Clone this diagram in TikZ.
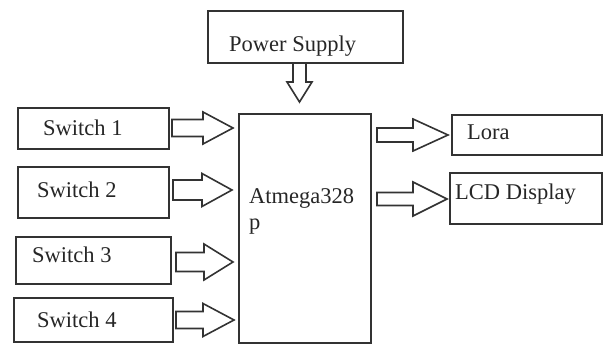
\documentclass[tikz,border=0pt]{standalone}
\usepackage{fontspec}
\setmainfont{Liberation Serif}
\begin{document}
\begin{tikzpicture}[x=1pt,y=-1pt,
  box/.style={draw=black!80, line width=2pt, anchor=north west, inner sep=0pt},
  lbl/.style={anchor=base west, inner sep=0pt, text=black!85, font=\fontsize{22.5}{26}\selectfont},
  blk/.style={draw=black!80, line width=1.6pt, fill=white, line join=miter}]
\useasboundingbox (0,0) rectangle (606,344);
% boxes
\node[box, minimum width=195pt, minimum height=52pt] (power) at (207,10) {};
\node[box, minimum width=132pt, minimum height=229pt] (mcu) at (238,113) {};
\node[box, minimum width=151pt, minimum height=41pt] (s1) at (17,107) {};
\node[box, minimum width=151pt, minimum height=51pt] (s2) at (17,166) {};
\node[box, minimum width=155pt, minimum height=47pt] (s3) at (15,236) {};
\node[box, minimum width=159pt, minimum height=44pt] (s4) at (13,297) {};
\node[box, minimum width=150pt, minimum height=40pt] (lora) at (451,114) {};
\node[box, minimum width=152pt, minimum height=51pt] (lcd) at (449,172) {};
% labels
\node[lbl] (tpower) at (229,52) {Power Supply};
\node[lbl] (tmcu) at (249,204) {Atmega328};
\node[lbl] (tp) at (249,230) {p};
\node[lbl] (ts1) at (43,135.5) {Switch 1};
\node[lbl] (ts2) at (37,197.5) {Switch 2};
\node[lbl] (ts3) at (32,262.5) {Switch 3};
\node[lbl] (ts4) at (37,327.5) {Switch 4};
\node[lbl] (tlora) at (467,139.5) {Lora};
\node[lbl] (tlcd) at (455,199.5) {LCD Display};
% block arrows: start, head start, tip, y centre, shaft half, head half
\newcommand\rblk[6]{\draw[blk] (#1,#4-#5) -- (#2,#4-#5) -- (#2,#4-#6) -- (#3,#4) -- (#2,#4+#6) -- (#2,#4+#5) -- (#1,#4+#5) -- cycle;}
\rblk{172}{203}{233}{128}{8.5}{16}
\rblk{173}{202}{232}{190}{10}{16.5}
\rblk{176}{204}{233}{262}{9.5}{18}
\rblk{176}{203}{234}{320}{8.5}{16.5}
\rblk{377}{413}{448}{135}{7}{16}
\rblk{377}{413}{447}{199}{6.5}{17}
% power arrow (down)
\draw[blk] (293,63) -- (306,63) -- (306,82) -- (312,82) -- (299.5,102) -- (287,82) -- (293,82) -- cycle;
\end{tikzpicture}
\end{document}
